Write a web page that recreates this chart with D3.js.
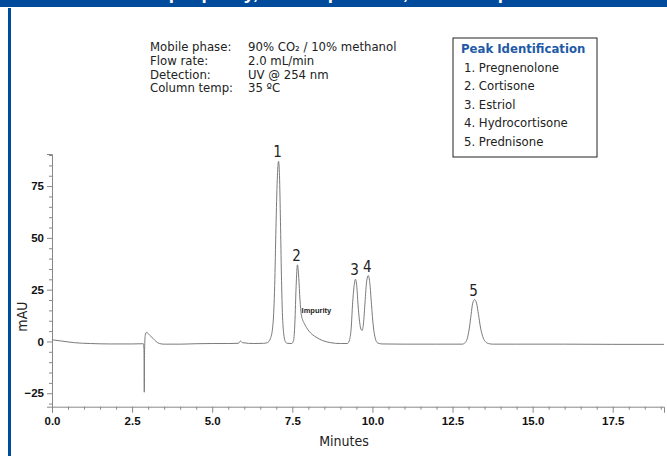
<!DOCTYPE html>
<html>
<head>
<meta charset="utf-8">
<script src="https://cdn.jsdelivr.net/npm/d3@7"></script>
<style>
  body { margin: 0; background: #fff; }
  svg { display: block; }
  .narrow { font-family: 'DejaVu Sans Condensed', 'Liberation Sans Narrow', Arial, sans-serif; }
  .tick-label { font-family: 'Liberation Sans', Arial, sans-serif; font-weight: bold; font-size: 11.5px; fill: #111; }
</style>
</head>
<body>
<svg width="667" height="456"></svg>
<script>
const width = 667;
const height = 456;

// chromatogram trace: [minutes, mAU]
const trace = [
  [0.0, 0.8], [0.3, 0.2], [0.7, -0.6], [1.2, -1.0], [1.8, -1.2], [2.5, -1.2],
  [2.85, -1.1], [2.87, -4], [2.88, -24.5], [2.89, -4], [2.91, 3.0], [2.95, 4.4],
  [3.05, 3.0], [3.15, 1.5], [3.25, 0], [3.35, -1.0], [3.5, -1.3], [4.0, -1.3],
  [4.5, -1.1], [5.0, -1.0], [5.5, -1.0], [5.82, -0.9], [5.88, 0.2], [5.95, -0.6],
  [6.3, -1.0], [6.6, -0.9],
  // peak 1
  [6.72, -0.6], [6.82, 1.5], [6.90, 9], [6.95, 27], [6.99, 55], [7.03, 78],
  [7.07, 87], [7.10, 80], [7.13, 58], [7.16, 32], [7.19, 14], [7.23, 4],
  [7.28, 0], [7.34, -0.9], [7.48, -1.0],
  // peak 2 + impurity tail
  [7.54, 0.5], [7.58, 9], [7.62, 27], [7.66, 37], [7.70, 31], [7.74, 20],
  [7.78, 13], [7.82, 10.5], [7.87, 8.8], [7.94, 6.8], [8.02, 5], [8.12, 3.4],
  [8.27, 1.8], [8.45, 0.4], [8.70, -0.6], [9.0, -1.0], [9.22, -1.0],
  // peaks 3 and 4
  [9.29, 1], [9.34, 7], [9.38, 18], [9.43, 27], [9.47, 30], [9.51, 27],
  [9.55, 18], [9.60, 9.5], [9.64, 6], [9.68, 5.3], [9.72, 8.5], [9.77, 19],
  [9.82, 29], [9.87, 31.8], [9.92, 28], [9.97, 18], [10.03, 7], [10.09, 1.5],
  [10.16, -0.7], [10.3, -1.2], [11.0, -1.3], [12.0, -1.3], [12.8, -1.3],
  // peak 5
  [12.90, -0.5], [12.97, 2], [13.03, 7], [13.08, 13], [13.13, 18.5], [13.19, 20.2],
  [13.25, 18.5], [13.31, 13], [13.37, 7], [13.44, 2.5], [13.52, 0], [13.62, -1.0],
  [13.75, -1.3], [14.5, -1.3], [16.0, -1.3], [17.5, -1.4], [19.1, -1.4]
];

// peak numbers at apex [label, minutes, mAU]
const peaks = [['1', 7.07, 87], ['2', 7.66, 37], ['3', 9.47, 30], ['4', 9.87, 31.8], ['5', 13.19, 20.2]];
const peakNames = ['1. Pregnenolone', '2. Cortisone', '3. Estriol', '4. Hydrocortisone', '5. Prednisone'];

const conditionLabels = ['Mobile phase:', 'Flow rate:', 'Detection:', 'Column temp:'];
const conditionValues = ['90% CO₂ / 10% methanol', '2.0 mL/min', 'UV @ 254 nm', '35 ºC'];

const xTicks = [0, 2.5, 5, 7.5, 10, 12.5, 15, 17.5];
const yTicks = [-25, 0, 25, 50, 75];

const svg = d3.select('svg');

// banner + left rule
svg.append('rect').attr('x', 0).attr('y', 0).attr('width', width).attr('height', 7).attr('fill', '#004b9b');
svg.append('rect').attr('x', 8).attr('y', 0).attr('width', 3).attr('height', height).attr('fill', '#004b9b');
svg.append('text')
    .attr('x', 60).attr('y', -1)
    .attr('fill', '#fff')
    .style('font-family', 'Liberation Sans, Arial, sans-serif')
    .style('font-weight', 'bold').style('font-size', '19px')
    .text('Steroid sample purity, SFC separation, 5 steroid peaks');
svg.append('rect').attr('x', 0).attr('y', 7).attr('width', width).attr('height', 1).attr('fill', '#fff');

const x = d3.scaleLinear().domain([0, 19.1]).range([52, 664]);
const y = d3.scaleLinear().domain([-31.5, 90.5]).range([406.7, 154]);

const axisColor = '#888';

// y axis
const gy = svg.append('g').attr('transform', `translate(${x(0)},0)`);
gy.call(d3.axisLeft(y).tickValues(d3.range(-30, 91, 5).filter(v => v % 25 !== 0)).tickSize(3).tickFormat(''));
gy.call(g => g.selectAll('.tick line').attr('stroke', axisColor));
const gyMajor = svg.append('g').attr('transform', `translate(${x(0)},0)`);
gyMajor.call(d3.axisLeft(y).tickValues(yTicks).tickSize(5).tickPadding(3));
gyMajor.selectAll('.domain').attr('stroke', axisColor);
gyMajor.selectAll('.tick line').attr('stroke', axisColor);
gyMajor.selectAll('.tick text').attr('class', 'tick-label');
gy.select('.domain').remove();

// x axis
const gx = svg.append('g').attr('transform', `translate(0,${y.range()[0]})`);
gx.call(d3.axisBottom(x).tickValues(d3.range(0.5, 19.1, 0.5).filter(v => v % 2.5 !== 0)).tickSize(3).tickFormat(''));
gx.selectAll('.tick line').attr('stroke', axisColor);
gx.select('.domain').remove();
const gxMajor = svg.append('g').attr('transform', `translate(0,${y.range()[0]})`);
gxMajor.call(d3.axisBottom(x).tickValues(xTicks).tickSize(6).tickPadding(4).tickFormat(d3.format('.1f')));
gxMajor.select('.domain').attr('stroke', axisColor);
gxMajor.selectAll('.tick line').attr('stroke', axisColor);
gxMajor.selectAll('.tick text').attr('class', 'tick-label');

// axis titles
svg.append('text')
    .attr('class', 'narrow')
    .attr('transform', `translate(27,${y(12)}) rotate(-90)`)
    .attr('text-anchor', 'middle')
    .style('font-size', '14px').attr('fill', '#222')
    .text('mAU');
svg.append('text')
    .attr('class', 'narrow')
    .attr('x', 344).attr('y', 446)
    .attr('text-anchor', 'middle')
    .style('font-size', '14px').attr('fill', '#222')
    .text('Minutes');

// trace
const line = d3.line()
    .x(d => x(d[0]))
    .y(d => y(d[1]))
    .curve(d3.curveMonotoneX);

svg.append('path')
    .datum(trace)
    .attr('d', line)
    .attr('fill', 'none')
    .attr('stroke', '#7a7a7a')
    .attr('stroke-width', 1);

// peak numbers
svg.selectAll('.peak-num')
    .data(peaks)
    .join('text')
    .attr('class', 'narrow peak-num')
    .attr('x', d => x(d[1]) - 1)
    .attr('y', d => y(d[2]) - 4)
    .attr('text-anchor', 'middle')
    .style('font-size', '15px').attr('fill', '#222')
    .text(d => d[0]);

svg.append('text')
    .attr('x', x(8.25)).attr('y', y(13.5))
    .attr('text-anchor', 'middle')
    .style('font-family', 'Liberation Sans, Arial, sans-serif')
    .style('font-weight', 'bold').style('font-size', '7.5px').attr('fill', '#222')
    .text('Impurity');

// run conditions
const cond = svg.append('g').attr('class', 'narrow').style('font-size', '13px').attr('fill', '#222');
conditionLabels.forEach((label, i) => {
    cond.append('text').attr('x', 150).attr('y', 51 + i * 13.8).text(label);
    cond.append('text').attr('x', 248).attr('y', 51 + i * 13.8).text(conditionValues[i]);
});

// peak identification box
const legend = svg.append('g').attr('transform', 'translate(453,38)');
legend.append('rect')
    .attr('width', 144).attr('height', 119)
    .attr('fill', '#fff').attr('stroke', '#222').attr('stroke-width', 1);
legend.append('text')
    .attr('class', 'narrow')
    .attr('x', 8).attr('y', 15)
    .style('font-size', '13px').style('font-weight', 'bold')
    .attr('fill', '#1f5aa8')
    .text('Peak Identification');
legend.selectAll('.name')
    .data(peakNames)
    .join('text')
    .attr('class', 'narrow name')
    .attr('x', 11)
    .attr('y', (d, i) => 34 + i * 18.4)
    .style('font-size', '13px').attr('fill', '#222')
    .text(d => d);
</script>
</body>
</html>
